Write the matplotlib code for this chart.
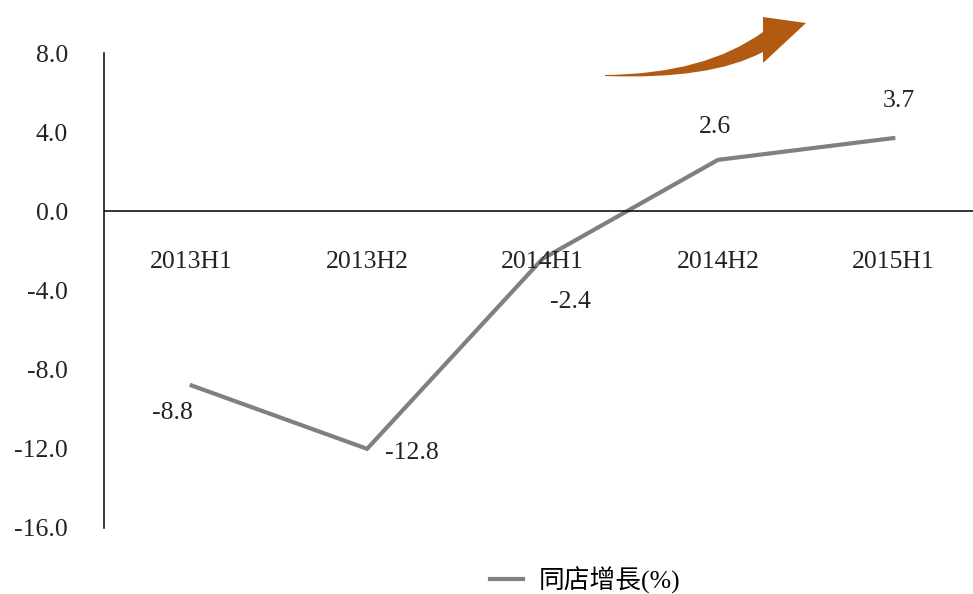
import matplotlib.pyplot as plt
from matplotlib.path import Path
from matplotlib.patches import PathPatch

# data
periods = ["2013H1", "2013H2", "2014H1", "2014H2", "2015H1"]
growth = [-8.8, -12.0, -2.4, 2.6, 3.7]          # where the line is drawn
point_labels = ["-8.8", "-12.8", "-2.4", "2.6", "3.7"]  # text printed next to points
yticks = [8, 4, 0, -4, -8, -12, -16]

serif = "Liberation Serif"
fs = 18.5
W, H = 973, 594

fig = plt.figure(figsize=(W / 100, H / 100), dpi=100)
ax = fig.add_axes([104 / W, 1 - 528 / H, 877 / W, 475 / H])

x = range(len(periods))
ax.plot(x, growth, color="#808080", lw=3, solid_joinstyle="miter", label="同店增長(%)")
ax.axhline(0, color="black", lw=1.1)

ax.set_xlim(-0.5, 4.5)
ax.set_ylim(-16, 8)
ax.set_yticks(yticks)
ax.set_yticklabels([f"{v:.1f}" for v in yticks], fontfamily=serif, fontsize=fs, color="#222222")
ax.set_xticks([])
ax.tick_params(axis="y", length=0, pad=26)
for s in ["top", "right", "bottom"]:
    ax.spines[s].set_visible(False)
ax.spines["left"].set_linewidth(1.1)

# category names sit just under the zero line
for i, p in enumerate(periods):
    ax.annotate(p, (i, 0), xytext=(0, -36.5), textcoords="offset points",
                ha="center", va="center", fontfamily=serif, fontsize=fs, color="#222222")

# value labels (offsets in points)
offsets = [(-14, -20), (32, -3), (20, -31), (-2, 24), (4, 27)]
for i, (txt, off) in enumerate(zip(point_labels, offsets)):
    ax.annotate(txt, (i, growth[i]), xytext=off, textcoords="offset points",
                ha="center", va="center", fontfamily=serif, fontsize=fs, color="#222222")

# decorative curved up-arrow at the top (outline in pixels, converted to figure fraction)
px = [(605, 75), (705, 74), (763, 32),      # upper edge of the tail
      (763, 17), (806, 23), (763, 63),      # head
      (763, 52), (710, 80), (605, 76),      # lower edge back to the tip
      (605, 75)]
codes = [Path.MOVETO, Path.CURVE3, Path.CURVE3,
         Path.LINETO, Path.LINETO, Path.LINETO,
         Path.LINETO, Path.CURVE3, Path.CURVE3,
         Path.CLOSEPOLY]
verts = [(a / W, 1 - b / H) for a, b in px]
fig.patches.append(PathPatch(Path(verts, codes), transform=fig.transFigure,
                             facecolor="#B05A12", edgecolor="none"))

fig.legend(loc="center", bbox_to_anchor=(585 / W, 1 - 580 / H), frameon=False,
           handlelength=1.3, handletextpad=0.6,
           prop={"family": [serif, "Noto Sans CJK TC"], "size": fs})

fig.savefig("out.png", dpi=100)
